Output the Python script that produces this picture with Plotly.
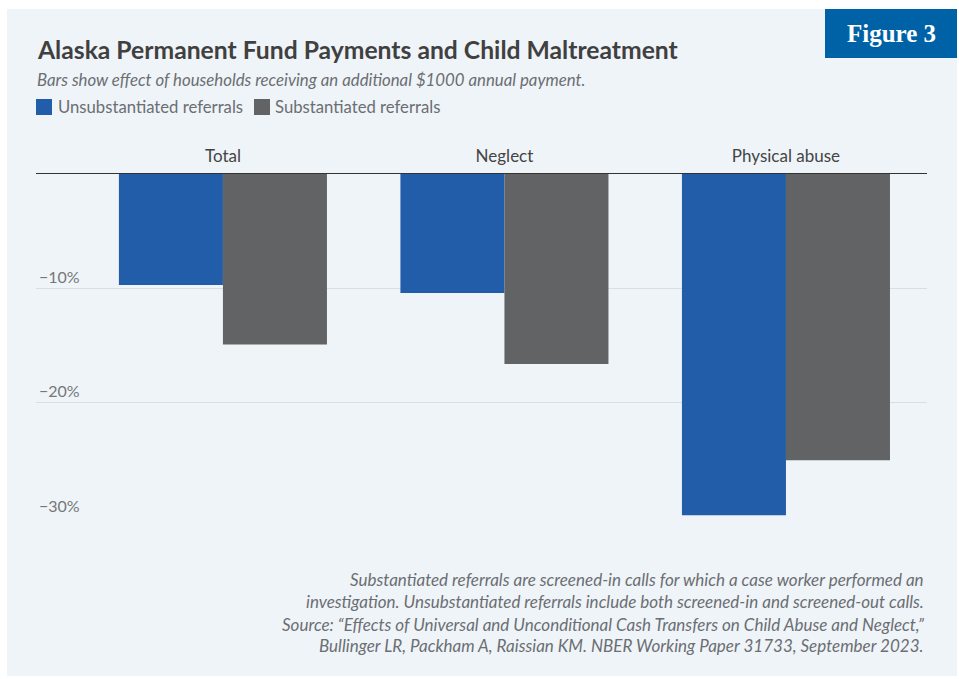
import plotly.graph_objects as go

categories = ["Total", "Neglect", "Physical abuse"]
series_names = ["Unsubstantiated referrals", "Substantiated referrals"]
unsubstantiated = [-9.7, -10.4, -29.8]
substantiated = [-14.9, -16.6, -25.0]
y_ticks = [-10, -20, -30]
y_tick_text = ["\u221210%", "\u221220%", "\u221230%"]

title = "Alaska Permanent Fund Payments and Child Maltreatment"
subtitle = "Bars show effect of households receiving an additional $1000 annual payment."
note_lines = ["Substantiated referrals are screened-in calls for which a case worker performed an",
              "investigation. Unsubstantiated referrals include both screened-in and screened-out calls."]
source_lines = ["Source: \u201cEffects of Universal and Unconditional Cash Transfers on Child Abuse and Neglect,\u201d",
                "Bullinger LR, Packham A, Raissian KM. NBER Working Paper 31733, September 2023."]
badge = "Figure 3"

BLUE = "#225DAA"
GRAY = "#626365"
PANEL = "#EFF4F9"
FONT = "Lato"

W, H = 959, 679
L, R, T, B = 36, 32, 174, 161
PW, PH = W - L - R, H - T - B

def px(x):
    return (x - L) / PW

def py(y):
    return (H - B - y) / PH

fig = go.Figure()
fig.add_trace(go.Bar(x=categories, y=unsubstantiated, name=series_names[0],
                     marker=dict(color=BLUE, line=dict(width=0)), showlegend=False))
fig.add_trace(go.Bar(x=categories, y=substantiated, name=series_names[1],
                     marker=dict(color=GRAY, line=dict(width=0)), showlegend=False))

shapes = [
    dict(type="rect", xref="paper", yref="paper", x0=px(7), x1=px(957), y0=py(676), y1=py(9),
         fillcolor=PANEL, line=dict(width=0), layer="below"),
    dict(type="rect", xref="paper", yref="paper", x0=px(825), x1=px(957), y0=py(58), y1=py(9),
         fillcolor="#0062A6", line=dict(width=0), layer="above"),
    dict(type="rect", xref="paper", yref="paper", x0=px(36), x1=px(52), y0=py(115), y1=py(99),
         fillcolor=BLUE, line=dict(width=0)),
    dict(type="rect", xref="paper", yref="paper", x0=px(254), x1=px(270), y0=py(115), y1=py(99),
         fillcolor=GRAY, line=dict(width=0)),
]

ann = [
    dict(text="<b>" + title + "</b>", x=px(35), y=py(49), xanchor="left", yanchor="middle",
         font=dict(family=FONT, size=24.7, color="#404040")),
    dict(text="<i>" + subtitle + "</i>", x=px(35), y=py(80), xanchor="left", yanchor="middle",
         font=dict(family=FONT, size=16.8, color="#6b6e72")),
    dict(text=series_names[0], x=px(56), y=py(107), xanchor="left", yanchor="middle",
         font=dict(family=FONT, size=16.7, color="#6b6e72")),
    dict(text=series_names[1], x=px(273), y=py(107), xanchor="left", yanchor="middle",
         font=dict(family=FONT, size=16.7, color="#6b6e72")),
    dict(text="<b>" + badge + "</b>", x=px(891), y=py(34), xanchor="center", yanchor="middle",
         font=dict(family="Liberation Serif", size=25, color="white")),
]
for i, line in enumerate(note_lines + source_lines):
    ycen = [579, 601, 624, 645][i]
    ann.append(dict(text="<i>" + line + "</i>", x=px(926), y=py(ycen), xanchor="right",
                    yanchor="middle", font=dict(family=FONT, size=17, color="#6b6e72")))
for a in ann:
    a.update(xref="paper", yref="paper", showarrow=False)

fig.update_layout(
    width=W, height=H,
    margin=dict(l=L, r=R, t=T, b=B),
    paper_bgcolor="white",
    plot_bgcolor=PANEL,
    barmode="group",
    bargap=0.261,
    bargroupgap=0,
    shapes=shapes,
    annotations=ann,
    font=dict(family=FONT, size=15, color="#444"),
    xaxis=dict(type="category", side="top", range=[-0.664, 2.501], showgrid=False,
               showline=True, linecolor="#333", linewidth=1.2, ticks="", zeroline=False,
               ticklabelstandoff=4,
               tickfont=dict(family=FONT, size=17, color="#444")),
    yaxis=dict(range=[-30.05, 0], tickvals=y_ticks, ticktext=y_tick_text, showgrid=True,
               gridcolor="#d9dee6", gridwidth=1, zeroline=False, showline=False,
               ticklabelposition="inside top", ticks="",
               tickfont=dict(family=FONT, size=16, color="#777")),
)

fig.write_html("out.html", config={"displayModeBar": False},
               post_script="document.body.style.margin='0';")
